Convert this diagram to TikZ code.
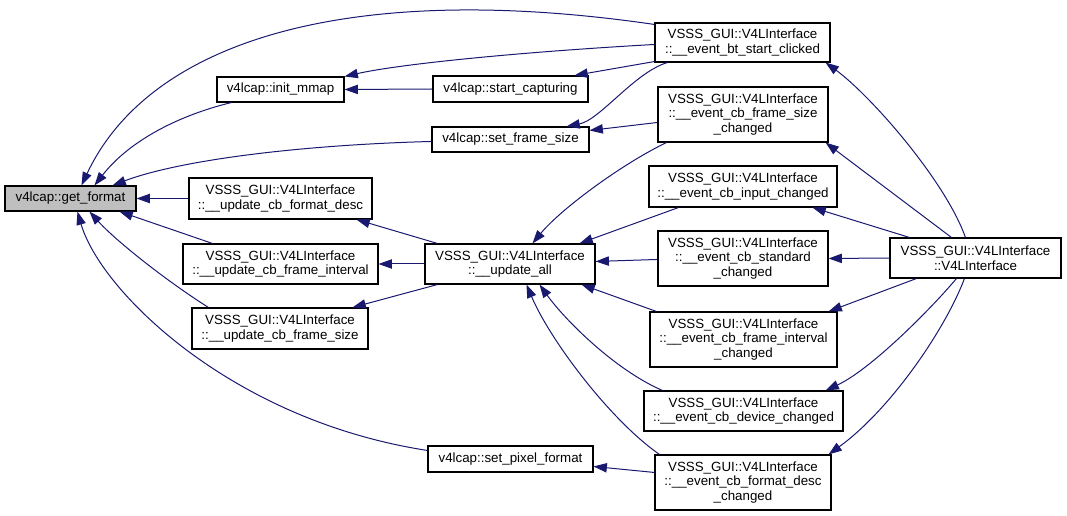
\documentclass[tikz,border=0pt]{standalone}
\usepackage{fontspec}
\setmainfont{Liberation Sans}
\usetikzlibrary{arrows.meta,calc}
\definecolor{edgec}{HTML}{191970}
\definecolor{grayfill}{HTML}{BFBFBF}
\begin{document}
\begin{tikzpicture}[x=0.75pt,y=-0.75pt,
  fn/.style={draw=black, line width=0.8pt, fill=white, inner sep=0pt, align=center, font=\fontsize{10}{11}\selectfont},
  sz/.style 2 args={minimum width=#1*0.75pt, minimum height=#2*0.75pt},
  cl/.style={draw=edgec, line width=0.75pt, {Triangle[length=10pt,width=7pt]}-}]
\useasboundingbox (0,0) rectangle (1067,516);
% nodes
\node[fn, sz={131}{25}, fill=grayfill] (gf) at (70.5,198.5) {v4lcap::get\_format};
\node[fn, sz={127}{25}] (im) at (280.5,89.5) {v4lcap::init\_mmap};
\node[fn, sz={155}{26}] (sc) at (510.5,89) {v4lcap::start\_capturing};
\node[fn, sz={157}{25}] (sfs) at (510.5,139.5) {v4lcap::set\_frame\_size};
\node[fn, sz={175}{39}] (bt) at (742.5,42.5) {VSSS\_GUI::V4LInterface\\::\_\_event\_bt\_start\_clicked};
\node[fn, sz={170}{55}] (fsc) at (743,114.5) {VSSS\_GUI::V4LInterface\\::\_\_event\_cb\_frame\_size\\\_changed};
\node[fn, sz={183}{41}] (ucfd) at (280.5,198.5) {VSSS\_GUI::V4LInterface\\::\_\_update\_cb\_format\_desc};
\node[fn, sz={195}{40}] (ucfi) at (280.5,264) {VSSS\_GUI::V4LInterface\\::\_\_update\_cb\_frame\_interval};
\node[fn, sz={176}{41}] (ucfs) at (280,328.5) {VSSS\_GUI::V4LInterface\\::\_\_update\_cb\_frame\_size};
\node[fn, sz={170}{40}] (ua) at (510,264) {VSSS\_GUI::V4LInterface\\::\_\_update\_all};
\node[fn, sz={188}{41}] (ic) at (743,186.5) {VSSS\_GUI::V4LInterface\\::\_\_event\_cb\_input\_changed};
\node[fn, sz={170}{55}] (stc) at (743,258.5) {VSSS\_GUI::V4LInterface\\::\_\_event\_cb\_standard\\\_changed};
\node[fn, sz={187}{55}] (fic) at (743.5,339.5) {VSSS\_GUI::V4LInterface\\::\_\_event\_cb\_frame\_interval\\\_changed};
\node[fn, sz={199}{40}] (dc) at (743.5,411) {VSSS\_GUI::V4LInterface\\::\_\_event\_cb\_device\_changed};
\node[fn, sz={165}{26}] (spf) at (510.5,459) {v4lcap::set\_pixel\_format};
\node[fn, sz={176}{55}] (fdc) at (743,482.5) {VSSS\_GUI::V4LInterface\\::\_\_event\_cb\_format\_desc\\\_changed};
\node[fn, sz={171}{40}] (v4l) at (975.5,258) {VSSS\_GUI::V4LInterface\\::V4LInterface};
% edges into get_format
\draw[cl] ($(gf.north west)+(77,0)$) .. controls (150,40) and (350,-20) .. ($(bt.north west)+(0,2)$);
\draw[cl] ($(gf.north west)+(90,0)$) .. controls (130,140) and (180,115) .. ($(im.south west)+(15,0)$);
\draw[cl] ($(gf.north west)+(108,0)$) .. controls (180,160) and (300,145) .. ($(sfs.north west)+(0,15)$);
\draw[cl] (gf.east) -- (ucfd.west);
\draw[cl] ($(gf.south west)+(115,0)$) -- ($(ucfi.north west)+(30,0)$);
\draw[cl] ($(gf.south west)+(85,0)$) .. controls (115,240) and (165,280) .. ($(ucfs.north west)+(17,0)$);
\draw[cl] ($(gf.south west)+(73,0)$) .. controls (100,290) and (230,420) .. ($(spf.north west)+(0,5)$);
% init_mmap, start_capturing, set_frame_size
\draw[cl] (im.east) -- (sc.west);
\draw[cl] (im.north east) .. controls (400,64) and (520,52) .. ($(bt.north west)+(0,22)$);
\draw[cl] ($(sc.north west)+(142,0)$) -- ($(bt.south west)+(0,-1)$);
\draw[cl] ($(sfs.north west)+(135,0)$) .. controls (600,120) and (635,72) .. ($(bt.south west)+(13,0)$);
\draw[cl] ($(sfs.north east)+(0,4)$) -- ($(fsc.north west)+(0,36)$);
% update_cb_* <- update_all
\draw[cl] ($(ucfd.south west)+(168,0)$) -- ($(ua.north west)+(13,0)$);
\draw[cl] (ucfi.east) -- (ua.west);
\draw[cl] ($(ucfs.north west)+(161,0)$) -- ($(ua.south west)+(13,0)$);
% update_all <- events
\draw[cl] ($(ua.north west)+(108,0)$) .. controls (560,210) and (620,165) .. ($(fsc.south west)+(9,0)$);
\draw[cl] ($(ua.north west)+(155,0)$) -- ($(ic.south west)+(30,0)$);
\draw[cl] ($(ua.north east)+(0,18)$) -- ($(stc.north west)+(0,29)$);
\draw[cl] ($(ua.south west)+(157,0)$) -- ($(fic.north west)+(7,0)$);
\draw[cl] ($(ua.south west)+(115,0)$) .. controls (565,320) and (615,370) .. ($(dc.north west)+(19,0)$);
\draw[cl] ($(ua.south west)+(102,0)$) .. controls (550,340) and (610,420) .. ($(fdc.north west)+(5,0)$);
\draw[cl] ($(spf.north east)+(0,21)$) -- ($(fdc.north west)+(0,18)$);
% events <- V4LInterface
\draw[cl] ($(bt.south east)+(-5,0)$) .. controls (870,95) and (945,180) .. ($(v4l.north west)+(76,0)$);
\draw[cl] ($(fsc.south east)+(-3,0)$) -- ($(v4l.north west)+(62,0)$);
\draw[cl] ($(ic.south west)+(164,0)$) -- ($(v4l.north west)+(20,0)$);
\draw[cl] (stc.east) -- (v4l.west);
\draw[cl] ($(fic.north east)+(-9,0)$) -- ($(v4l.south west)+(27,0)$);
\draw[cl] ($(dc.north east)+(-18,0)$) .. controls (870,370) and (930,310) .. ($(v4l.south west)+(67,0)$);
\draw[cl] ($(fdc.north east)+(-3,0)$) .. controls (890,410) and (945,330) .. ($(v4l.south west)+(75,0)$);
\end{tikzpicture}
\end{document}
